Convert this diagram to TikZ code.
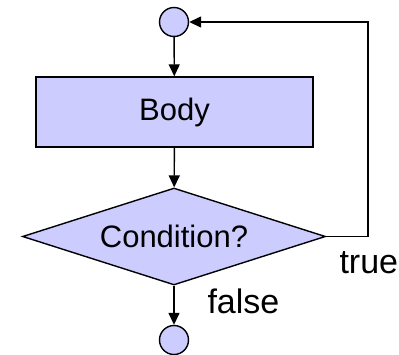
\documentclass[tikz,border=0pt]{standalone}
\usepackage{fontspec}
\setmainfont{Liberation Sans}
\usetikzlibrary{shapes.geometric,arrows.meta}
\definecolor{boxfill}{RGB}{204,204,255}
\begin{document}
\begin{tikzpicture}[x=1pt, y=-1pt,
        flow/.style={draw=black, line width=1.4pt, fill=boxfill, font=\fontsize{31}{36}\selectfont},
        joint/.style={flow, circle, minimum size=29pt, inner sep=0pt},
        arr/.style={line width=1.4pt, -{Triangle[length=12pt, width=11pt]}},
        lbl/.style={anchor=base west, font=\fontsize{34}{40}\selectfont}]
        \useasboundingbox (0,0) rectangle (399,354);

        \node[joint](start) at (174,22){};
        \node[flow, rectangle, minimum width=277pt, minimum height=70pt](body) at (174.5,112){Body};
        \node[flow, diamond, aspect=3.1, inner sep=0pt, minimum width=303pt, minimum height=97pt](cond) at (174,236.5){Condition?};
        \node[joint](stop) at (174,340){};
        \coordinate(corner) at (368,22);

        \draw[arr] (start) -- (body);
        \draw[arr] (body) -- (cond);
        \draw[arr] (cond) -- (stop);
        \draw[arr] (cond.east) -| (corner) -- (start);

        \node[lbl](true) at (336,273){true};
        \node[lbl](false) at (204,313){false};
    \end{tikzpicture}
\end{document}
